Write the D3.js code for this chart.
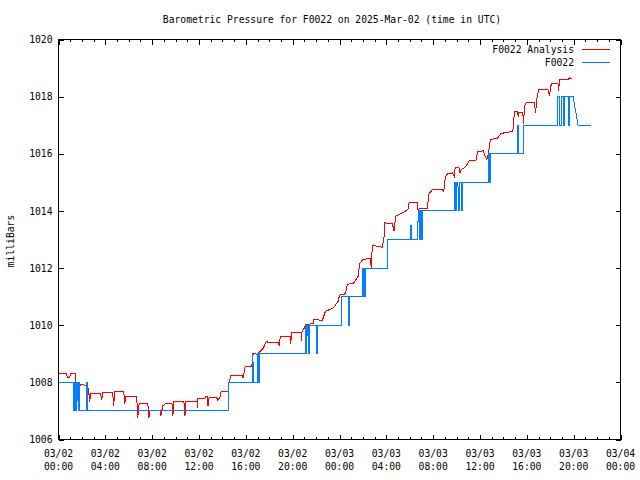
<!DOCTYPE html>
<html><head><meta charset="utf-8">
<script src="https://cdn.jsdelivr.net/npm/d3@7"></script>
<style>
body{margin:0;background:#fff}
text{font-family:"DejaVu Sans Mono",monospace;font-size:9.7px;fill:#000}
</style>
</head><body>
<svg id="c" width="640" height="480"></svg>
<script>
const titleText = "Barometric Pressure for F0022 on 2025-Mar-02 (time in UTC)";
const yAxisLabel = "milliBars";
const seriesNames = ["F0022 Analysis", "F0022"];
const seriesColors = ["#ff0000", "#0080ff"];
const xTickHours = [0,4,8,12,16,20,24,28,32,36,40,44,48];
const xTickDates = ["03/02","03/02","03/02","03/02","03/02","03/02","03/03","03/03","03/03","03/03","03/03","03/03","03/04"];
const xTickTimes = ["00:00","04:00","08:00","12:00","16:00","20:00","00:00","04:00","08:00","12:00","16:00","20:00","00:00"];
const yTicks = [1006,1008,1010,1012,1014,1016,1018,1020];

// [hours since 2025-03-02 00:00 UTC, mb]
const analysis = [
[0,1008.31],[0.69,1008.31],[0.75,1008.17],[0.95,1008.17],[1.03,1008.31],[1.43,1008.31],[1.46,1008.03],[1.54,1007.7],[1.58,1008.0],[1.72,1007.95],[1.8,1007.89],[2.1,1007.95],[2.2,1007.89],[2.49,1007.89],[2.6,1007.6],[2.66,1007.3],[2.75,1007.61],[3.6,1007.61],[3.69,1007.37],[3.77,1007.65],[4.63,1007.65],[4.71,1007.16],[4.8,1007.68],[5.57,1007.68],[5.66,1007.23],[5.74,1007.5],[6.69,1007.5],[6.72,1007.09],[6.77,1006.74],[6.85,1007.19],[6.94,1007.26],[7.63,1007.26],[7.71,1006.74],[7.8,1007.02],[8.66,1007.02],[8.74,1006.84],[8.91,1007.19],[9.2,1007.26],[9.69,1007.26],[9.77,1006.84],[9.86,1007.33],[10.71,1007.33],[10.8,1006.81],[10.89,1007.33],[11.83,1007.33],[11.87,1007.09],[11.91,1007.45],[12.51,1007.45],[12.6,1007.52],[12.69,1007.52],[12.77,1007.16],[12.86,1007.48],[13.5,1007.48],[13.6,1007.37],[13.8,1007.48],[13.89,1007.68],[14.49,1007.68],[14.57,1008.0],[14.74,1008.25],[15.69,1008.25],[15.77,1008.14],[15.85,1008.35],[15.94,1008.57],[16.46,1008.57],[16.54,1008.66],[16.63,1009.01],[17.03,1008.98],[17.14,1009.05],[17.5,1009.2],[17.74,1009.44],[18.0,1009.38],[18.77,1009.4],[18.86,1009.27],[18.94,1009.62],[19.8,1009.62],[19.84,1009.33],[19.89,1009.75],[20.72,1009.75],[20.76,1009.44],[20.8,1009.79],[21.0,1009.9],[21.1,1010.02],[21.77,1010.06],[21.8,1010.2],[22.54,1010.17],[22.8,1010.49],[23.0,1010.52],[23.49,1010.61],[23.89,1010.84],[24.0,1011.05],[24.51,1011.1],[24.66,1011.43],[25.23,1011.48],[25.6,1011.72],[25.71,1012.15],[26.0,1012.3],[26.51,1012.33],[26.62,1012.33],[26.72,1012.01],[26.8,1012.8],[27.66,1012.73],[27.8,1013.06],[27.88,1013.58],[28.52,1013.56],[28.65,1013.29],[28.8,1013.82],[29.37,1013.93],[29.85,1014.05],[29.94,1014.28],[30.66,1014.28],[30.71,1013.99],[30.8,1014.07],[31.52,1014.07],[31.6,1014.58],[31.95,1014.75],[32.8,1014.75],[32.88,1014.65],[32.94,1014.81],[33.03,1015.16],[33.23,1015.31],[33.66,1015.33],[33.8,1015.22],[33.88,1015.51],[34.2,1015.51],[34.29,1015.33],[34.4,1015.45],[34.65,1015.51],[34.8,1015.57],[35.08,1015.75],[35.66,1015.78],[35.8,1016.09],[36.28,1016.1],[36.37,1015.98],[36.57,1015.8],[36.75,1016.03],[36.8,1016.33],[36.94,1016.5],[37.5,1016.55],[37.8,1016.71],[38.8,1016.79],[38.89,1017.2],[38.94,1017.49],[39.2,1017.49],[39.27,1017.3],[39.32,1017.43],[39.66,1017.43],[39.72,1017.03],[39.8,1017.67],[39.94,1017.78],[40.65,1017.78],[40.74,1017.43],[40.89,1018.02],[41.03,1018.25],[41.8,1018.25],[41.94,1018.04],[42.09,1018.46],[42.66,1018.46],[42.71,1018.2],[42.8,1018.6],[43.52,1018.6],[43.65,1018.65],[43.8,1018.62]
];

const station = [
[0,1008],[1.29,1008],[1.3,1007],[1.38,1007],[1.39,1008],[1.45,1008],[1.46,1007],[1.55,1007],[1.56,1008],[1.66,1008],[1.67,1007],[1.72,1007],[1.73,1008],[1.8,1008],[1.81,1007],[2.36,1007],[2.37,1008],[2.46,1008],[2.47,1007],[14.5,1007],[14.51,1008],[16.53,1008],[16.54,1009],[16.61,1009],[16.62,1008],[17.02,1008],[17.03,1009],[17.09,1009],[17.1,1008],[17.16,1008],[17.17,1009],[21.08,1009],[21.09,1010],[21.16,1010],[21.17,1009],[21.22,1009],[21.23,1010],[21.36,1010],[21.37,1009],[21.42,1009],[21.43,1010],[22.02,1010],[22.03,1009],[22.13,1009],[22.14,1010],[24.19,1010],[24.2,1011],[24.73,1011],[24.74,1010],[24.84,1010],[24.85,1011],[25.94,1011],[25.95,1012],[26.0,1012],[26.01,1011],[26.08,1011],[26.09,1012],[26.14,1012],[26.15,1011],[26.22,1011],[26.23,1012],[28.13,1012],[28.14,1013],[30.08,1013],[30.09,1013.5],[30.17,1013.5],[30.18,1013],[30.7,1013],[30.71,1014],[30.8,1014],[30.81,1013],[30.88,1013],[30.89,1014],[31.0,1014],[31.01,1013],[31.08,1013],[31.09,1014],[33.8,1014],[33.81,1015],[33.9,1015],[33.91,1014],[34.02,1014],[34.03,1015],[34.12,1015],[34.13,1014],[34.26,1014],[34.27,1015],[34.38,1015],[34.39,1014],[34.5,1014],[34.51,1015],[36.72,1015],[36.73,1016],[36.8,1016],[36.81,1015],[36.86,1015],[36.87,1016],[39.22,1016],[39.23,1017],[39.3,1017],[39.31,1016],[39.72,1016],[39.73,1017],[42.62,1017],[42.63,1018],[42.82,1018],[42.83,1017],[42.95,1017],[42.96,1018],[43.15,1018],[43.16,1017],[43.2,1017],[43.21,1018],[43.52,1018],[43.53,1017],[43.64,1017],[43.65,1018],[43.95,1018],[44.38,1017],[45.47,1017]
];

const L = 58.5, R = 620.5, T = 39.5, B = 439.5;
const svg = d3.select("#c");
const x = d3.scaleLinear().domain([0,48]).range([L,R]);
const y = d3.scaleLinear().domain([1006,1020]).range([B,T]);
const minorHours = d3.range(0,49,1);

function styleAxis(g){
  g.select(".domain").remove();
  g.selectAll("line").attr("stroke","#000").attr("shape-rendering","crispEdges");
  g.selectAll("text").remove();
}
// bottom / top ticks
svg.append("g").attr("transform",`translate(0,${B})`).call(d3.axisBottom(x).tickValues(minorHours).tickSize(-2.5)).call(styleAxis);
svg.append("g").attr("transform",`translate(0,${B})`).call(d3.axisBottom(x).tickValues(xTickHours).tickSize(-5)).call(styleAxis);
svg.append("g").attr("transform",`translate(0,${T})`).call(d3.axisTop(x).tickValues(minorHours).tickSize(-2.5)).call(styleAxis);
svg.append("g").attr("transform",`translate(0,${T})`).call(d3.axisTop(x).tickValues(xTickHours).tickSize(-5)).call(styleAxis);
// left / right ticks
const yl = svg.append("g").attr("transform",`translate(${L},0)`).call(d3.axisLeft(y).tickValues(yTicks).tickSize(-5).tickPadding(6).tickFormat(d3.format("d")));
yl.select(".domain").remove();
yl.selectAll("line").attr("stroke","#000").attr("shape-rendering","crispEdges");
yl.selectAll("text").attr("fill","#000").style("font-family",'"DejaVu Sans Mono",monospace').style("font-size","9.7px");
svg.append("g").attr("transform",`translate(${R},0)`).call(d3.axisRight(y).tickValues(yTicks).tickSize(-5)).call(styleAxis);

// x tick labels
const xl = svg.append("g");
xTickHours.forEach((h,i)=>{
  xl.append("text").attr("x",x(h)).attr("y",454).attr("dy","0.35em").attr("text-anchor","middle").text(xTickDates[i]);
  xl.append("text").attr("x",x(h)).attr("y",467).attr("dy","0.35em").attr("text-anchor","middle").text(xTickTimes[i]);
});

// frame
svg.append("rect").attr("x",L).attr("y",T).attr("width",R-L).attr("height",B-T)
  .attr("fill","none").attr("stroke","#000").attr("shape-rendering","crispEdges");

// title and y label
svg.append("text").attr("x",332).attr("y",20).attr("dy","0.35em").attr("text-anchor","middle").text(titleText);
svg.append("text").attr("transform","translate(11,241) rotate(-90)").attr("dy","0.35em").attr("text-anchor","middle").text(yAxisLabel);

// lines
const line = d3.line().x(d=>x(d[0])).y(d=>y(d[1]));
[analysis, station].forEach((data,i)=>{
  svg.append("path").datum(data).attr("d",line).attr("fill","none")
    .attr("stroke",seriesColors[i]).attr("stroke-width",1).attr("shape-rendering","crispEdges");
});

// legend
seriesNames.forEach((name,i)=>{
  const ly = 49.5 + i*13;
  svg.append("text").attr("x",574).attr("y",ly).attr("dy","0.35em").attr("text-anchor","end").text(name);
  svg.append("line").attr("x1",582).attr("x2",610).attr("y1",ly).attr("y2",ly)
    .attr("stroke",seriesColors[i]).attr("stroke-width",1).attr("shape-rendering","crispEdges");
});
</script>
</body></html>
